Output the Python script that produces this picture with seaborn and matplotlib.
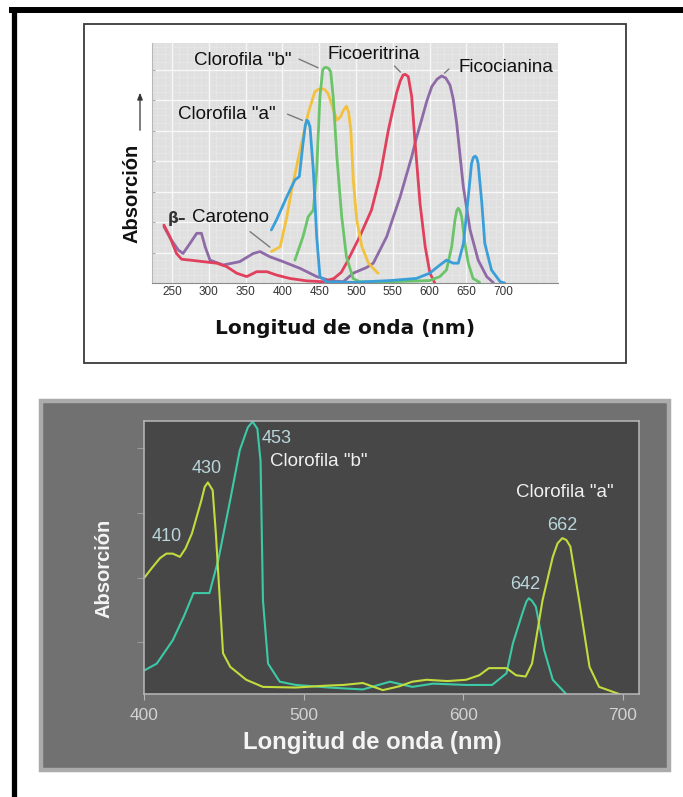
import numpy as np
import pandas as pd
import matplotlib
matplotlib.use("Agg")
import matplotlib.pyplot as plt
from matplotlib.patches import Rectangle, FancyArrowPatch
from matplotlib.lines import Line2D
import seaborn as sns

# ---- top chart: absorption of the photosynthetic pigments ----
clor_a_nm = [385, 392, 406, 417, 423, 428, 431, 433, 435, 437.5, 442, 446.6, 451, 460, 496, 546, 582, 600, 614,
             623, 632, 639, 646, 652.6, 657, 659.5, 662, 664, 666, 671, 675, 684, 696, 702]
clor_a_abs = [1.74, 2.07, 2.83, 3.38, 3.49, 4.58, 5.15, 5.34, 5.30, 5.12, 3.70, 1.52, 0.21, 0.04, 0.02, 0.08, 0.15,
              0.32, 0.59, 0.75, 0.65, 0.65, 1.30, 2.83, 3.92, 4.12, 4.16, 4.10, 3.92, 2.61, 1.30, 0.43, 0.04, 0.0]

clor_b_nm = [417, 428, 435, 442, 446.6, 451, 454.7, 457, 460, 463, 465.6, 469, 474, 480.6, 487, 496, 505, 546,
             600, 614, 623, 630, 634.5, 637, 639, 641, 643.6, 648, 652.6, 659, 668]
clor_b_abs = [0.75, 1.52, 2.17, 2.39, 3.70, 6.11, 6.98, 7.06, 7.07, 7.03, 6.93, 6.11, 4.14, 2.17, 0.86, 0.15,
              0.04, 0.04, 0.08, 0.21, 0.43, 1.19, 2.07, 2.38, 2.45, 2.38, 2.17, 1.30, 0.65, 0.15, 0.02]

carot_nm = [385, 397, 406, 412.6, 424, 435, 444, 449, 453, 458, 462, 474, 479, 483, 487, 490, 493, 496.3, 501,
            508, 517, 523.5, 530]
carot_abs = [1.03, 1.19, 2.17, 3.05, 4.36, 5.56, 6.27, 6.35, 6.38, 6.33, 6.22, 5.34, 5.45, 5.67, 5.80, 5.60,
             5.02, 3.38, 2.07, 1.19, 0.65, 0.48, 0.32]

ficoe_nm = [239, 247, 256, 263, 274.5, 292.5, 310.7, 324, 338, 351.5, 365, 379, 392, 410, 433, 455.6, 470,
            480, 487, 505, 521, 532.6, 544, 555, 560, 564, 567, 571, 575.7, 580, 587, 594, 600.5, 607]
ficoe_abs = [1.90, 1.52, 0.97, 0.78, 0.75, 0.70, 0.65, 0.54, 0.32, 0.21, 0.37, 0.37, 0.26, 0.15, 0.07, 0.04,
             0.15, 0.35, 0.65, 1.52, 2.39, 3.49, 5.02, 6.22, 6.62, 6.82, 6.84, 6.77, 6.11, 4.69, 2.61, 1.19,
             0.32, 0.0]

ficoc_nm = [239, 248, 258.6, 265, 274.5, 283.6, 290, 295, 301.6, 319.7, 342, 360.5, 369.6, 383, 401, 424,
            446.6, 464.7, 482.7, 496, 514.5, 523.5, 541.7, 560, 575.7, 582, 589, 596, 603, 610, 616.4, 622,
            627.7, 632, 636.8, 645.8, 655, 666, 677.6, 686.6]
ficoc_abs = [1.85, 1.45, 1.08, 0.97, 1.30, 1.63, 1.63, 1.19, 0.75, 0.59, 0.70, 0.97, 1.03, 0.86, 0.70, 0.48,
             0.21, 0.08, 0.04, 0.32, 0.51, 0.65, 1.52, 2.83, 4.14, 4.75, 5.34, 5.95, 6.44, 6.68, 6.79, 6.72,
             6.49, 6.05, 5.24, 3.16, 1.74, 0.75, 0.21, 0.01]

top_ticks = [250, 300, 350, 400, 450, 500, 550, 600, 650, 700]

# ---- bottom chart: chlorophyll a and b ----
cla_nm = [400.6, 405, 410, 414, 418, 422.5, 426, 430, 436, 438, 440, 443, 445, 447.5, 449.5, 454, 464, 474.5,
          495, 515, 525, 537, 549.6, 560, 568, 577, 590, 601.7, 610, 616, 627, 633, 639, 643, 649.6, 656,
          659, 662, 664.5, 667, 672.5, 679, 685, 697.5]
cla_abs = [1.81, 1.95, 2.10, 2.17, 2.17, 2.12, 2.25, 2.48, 3.00, 3.20, 3.27, 3.15, 2.48, 1.45, 0.63, 0.42, 0.22,
           0.11, 0.10, 0.13, 0.14, 0.17, 0.06, 0.12, 0.19, 0.22, 0.20, 0.22, 0.29, 0.40, 0.40, 0.29, 0.27,
           0.47, 1.45, 2.12, 2.33, 2.41, 2.38, 2.28, 1.45, 0.42, 0.11, 0.0]

clb_nm = [400.6, 408, 418, 425, 431, 441, 446.5, 454, 460, 465, 468, 471, 473, 474.5, 477.7, 485, 495, 516,
          537, 554, 568, 581, 601.7, 618, 627, 631, 637, 639.5, 641, 643, 645.4, 650.6, 656, 664]
clb_abs = [0.37, 0.47, 0.83, 1.20, 1.56, 1.56, 2.07, 3.00, 3.77, 4.12, 4.21, 4.10, 3.60, 1.45, 0.47, 0.19, 0.14,
           0.10, 0.07, 0.19, 0.11, 0.16, 0.14, 0.14, 0.32, 0.78, 1.25, 1.43, 1.48, 1.44, 1.35, 0.68, 0.22, 0.01]

bottom_ticks = [400, 500, 600, 700]

W, H = 683, 797


def fx(x):
    return x / W


def fy(y):
    return 1 - y / H


top_df = pd.concat([
    pd.DataFrame({"nm": ficoc_nm, "abs": ficoc_abs, "pig": "Ficocianina"}),
    pd.DataFrame({"nm": ficoe_nm, "abs": ficoe_abs, "pig": "Ficoeritrina"}),
    pd.DataFrame({"nm": carot_nm, "abs": carot_abs, "pig": "Caroteno"}),
    pd.DataFrame({"nm": clor_b_nm, "abs": clor_b_abs, "pig": "Clorofila b"}),
    pd.DataFrame({"nm": clor_a_nm, "abs": clor_a_abs, "pig": "Clorofila a"}),
])
top_colors = {"Ficocianina": "#8e6aa6", "Ficoeritrina": "#e0405c", "Caroteno": "#f2c23e",
              "Clorofila b": "#6cc46a", "Clorofila a": "#3a9fd8"}

bot_df = pd.concat([
    pd.DataFrame({"nm": clb_nm, "abs": clb_abs, "pig": "b"}),
    pd.DataFrame({"nm": cla_nm, "abs": cla_abs, "pig": "a"}),
])
bot_colors = {"a": "#c2dc3e", "b": "#3ccaa6"}

fig = plt.figure(figsize=(W / 100, H / 100), dpi=100)
fig.patch.set_facecolor("white")

# frames / panels
fig.add_artist(Rectangle((fx(84), fy(363)), (626 - 84) / W, (363 - 24) / H, fill=False,
                         ec="#3a3a3a", lw=1.3, transform=fig.transFigure, zorder=-5))
fig.add_artist(Rectangle((fx(41), fy(770)), (669 - 41) / W, (770 - 401) / H, fc="#717171",
                         ec="#ababab", lw=3.2, transform=fig.transFigure, zorder=-5))
fig.add_artist(Line2D([fx(13.5), fx(13.5)], [0, fy(10)], color="black", lw=3.8, transform=fig.transFigure))
fig.add_artist(Line2D([fx(11.5), 1], [fy(10), fy(10)], color="black", lw=4.3, transform=fig.transFigure))

# ---------------- top chart ----------------
ax1 = fig.add_axes([fx(152), fy(283), (557.5 - 152) / W, (283 - 43) / H])
ax1.set_facecolor("#e0e0e0")
sns.lineplot(data=top_df, x="nm", y="abs", hue="pig", palette=top_colors, estimator=None,
             lw=2.0, legend=False, ax=ax1)
for ln in ax1.lines:
    ln.set_solid_joinstyle("round")
    ln.set_solid_capstyle("round")
ax1.set_xlim(222.8, 773.8)
ax1.set_ylim(0, 7.87)
ax1.set_xticks(top_ticks)
ax1.set_xticklabels([str(t) for t in top_ticks], fontsize=8.5, color="#333333", family="Liberation Sans")
ax1.set_yticks(range(1, 8))
ax1.set_yticklabels([])
ax1.set_xticks(np.arange(230, 770, 10), minor=True)
ax1.set_yticks(np.arange(0.25, 7.87, 0.25), minor=True)
ax1.tick_params(axis="x", length=0, pad=2)
ax1.tick_params(axis="y", length=2, color="#aaaaaa", direction="in")
ax1.tick_params(which="minor", length=0)
ax1.grid(True, which="major", color="#f8f8f8", lw=1.0)
ax1.grid(True, which="minor", color="#e9e9e9", lw=0.4)
ax1.set_axisbelow(True)
ax1.set_xlabel("")
ax1.set_ylabel("")
for s in ["top", "right"]:
    ax1.spines[s].set_visible(False)
ax1.spines["left"].set_color("#b8b8b8")
ax1.spines["bottom"].set_color("#8a8a8a")

lab = dict(fontsize=13.5, family="Liberation Sans", color="#111111", va="center")
ptr = dict(arrowstyle="-", color="#7a7a7a", lw=1.0)
ax1.text(346.5, 7.31, 'Clorofila "b"', ha="center", **lab)
ax1.annotate("", xy=(452, 7.02), xytext=(419, 7.38), arrowprops=ptr)
ax1.text(524.5, 7.5, "Ficoeritrina", ha="center", **lab)
ax1.annotate("", xy=(563, 6.85), xytext=(549.6, 7.18), arrowprops=ptr)
ax1.text(703.8, 7.08, "Ficocianina", ha="center", **lab)
ax1.annotate("", xy=(617.5, 6.82), xytext=(629, 7.08), arrowprops=ptr)
ax1.text(324, 5.54, 'Clorofila "a"', ha="center", **lab)
ax1.annotate("", xy=(430.7, 5.3), xytext=(403.5, 5.57), arrowprops=ptr)
ax1.text(244, 2.1, "β–", ha="left", fontsize=11, fontweight="bold", family="DejaVu Sans",
         color="#333333", va="center")
ax1.text(277, 2.15, "Caroteno", ha="left", **lab)
ax1.annotate("", xy=(386, 1.12), xytext=(353, 1.74), arrowprops=ptr)

fig.text(fx(132), fy(193), "Absorción", rotation=90, ha="center", va="center", fontsize=14.5,
         fontweight="bold", family="Liberation Sans", color="#111111")
fig.add_artist(FancyArrowPatch((fx(140), fy(133)), (fx(140), fy(90)), transform=fig.transFigure,
                               arrowstyle="-|>,head_length=4,head_width=1.6", color="#333333", lw=0.9))
fig.text(fx(345), fy(328), "Longitud de onda (nm)", ha="center", va="center", fontsize=14.5,
         fontweight="bold", family="DejaVu Sans", color="#111111")

# ---------------- bottom chart ----------------
ax2 = fig.add_axes([fx(144), fy(694), (639 - 144) / W, (694 - 421) / H])
ax2.set_facecolor("#474747")
sns.lineplot(data=bot_df, x="nm", y="abs", hue="pig", palette=bot_colors, estimator=None,
             lw=1.5, legend=False, ax=ax2)
for ln in ax2.lines:
    ln.set_solid_joinstyle("round")
ax2.set_xlim(400, 710)
ax2.set_ylim(0, 4.22)
ax2.set_xticks(bottom_ticks)
ax2.set_xticklabels([str(t) for t in bottom_ticks], fontsize=12.5, color="#d2d2d2", family="Liberation Sans")
ax2.set_yticks([0.8, 1.8, 2.8, 3.8])
ax2.set_yticklabels([])
ax2.tick_params(axis="x", length=4, color="#b8b8b8", pad=6)
ax2.tick_params(axis="y", length=5, color="#9a9a9a")
ax2.set_xlabel("")
ax2.set_ylabel("")
for s in ax2.spines.values():
    s.set_color("#b8b8b8")
    s.set_linewidth(1.1)

num = dict(fontsize=13, family="Liberation Sans", color="#b9d6dc", ha="center", va="center")
txt = dict(fontsize=13.5, family="Liberation Sans", color="#f0f0f0", ha="center", va="center")
ax2.text(414, 2.43, "410", **num)
ax2.text(439, 3.49, "430", **num)
ax2.text(483, 3.95, "453", **num)
ax2.text(509.6, 3.59, 'Clorofila "b"', **txt)
ax2.text(663.6, 3.11, 'Clorofila "a"', **txt)
ax2.text(661.7, 2.6, "662", **num)
ax2.text(639, 1.7, "642", **num)

fig.text(fx(104.5), fy(568), "Absorción", rotation=90, ha="center", va="center", fontsize=14.5,
         fontweight="bold", family="Liberation Sans", color="#f4f4f4")
fig.text(fx(372), fy(742), "Longitud de onda (nm)", ha="center", va="center", fontsize=17.2,
         fontweight="bold", family="Liberation Sans", color="#f4f4f4")

fig.savefig("out.png", dpi=100, facecolor="white")
